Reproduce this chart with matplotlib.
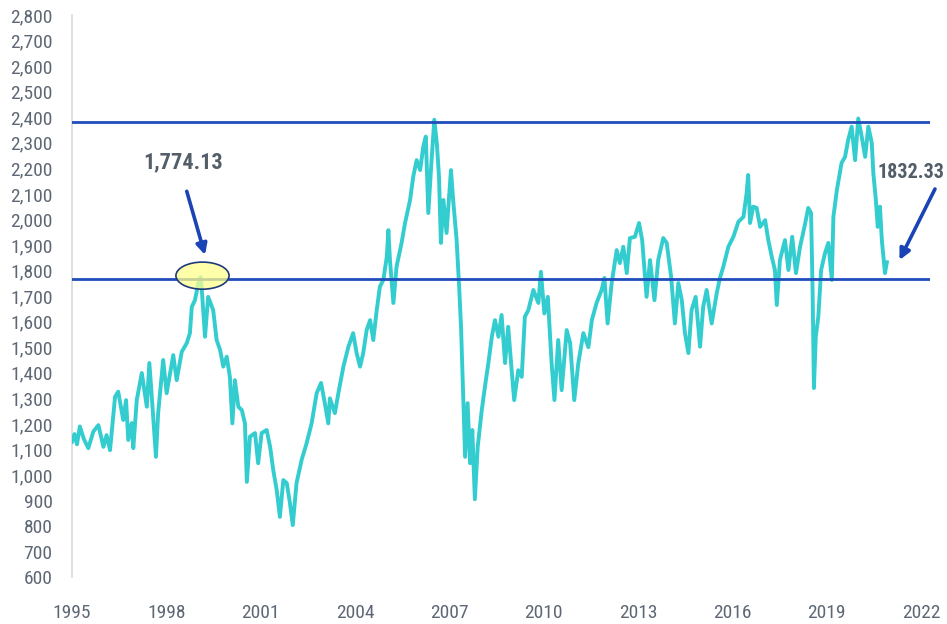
import os
import matplotlib
matplotlib.use("Agg")
import matplotlib.pyplot as plt
import matplotlib.font_manager as fm
from matplotlib.patches import Ellipse
from matplotlib.ticker import FuncFormatter

# ---------------- data ----------------
years = [
    1995.00, 1995.08, 1995.16, 1995.25, 1995.38, 1995.52, 1995.68, 1995.84, 1996.00, 1996.10,
    1996.21, 1996.37, 1996.47, 1996.63, 1996.72, 1996.79, 1996.90, 1996.95, 1997.06, 1997.22,
    1997.38, 1997.46, 1997.53, 1997.67, 1997.74, 1997.90, 1998.01, 1998.22, 1998.33, 1998.49,
    1998.65, 1998.75, 1998.81, 1998.91, 1999.02, 1999.09, 1999.12, 1999.23, 1999.33, 1999.49,
    1999.60, 1999.71, 1999.81, 1999.92, 2000.02, 2000.10, 2000.18, 2000.29, 2000.40, 2000.50,
    2000.56, 2000.66, 2000.82, 2000.92, 2001.03, 2001.19, 2001.30, 2001.40, 2001.51, 2001.61,
    2001.72, 2001.83, 2001.93, 2002.02, 2002.14, 2002.30, 2002.46, 2002.62, 2002.78, 2002.92,
    2003.04, 2003.15, 2003.20, 2003.36, 2003.47, 2003.63, 2003.79, 2003.94, 2004.05, 2004.16,
    2004.26, 2004.37, 2004.48, 2004.58, 2004.69, 2004.79, 2004.90, 2005.01, 2005.06, 2005.11,
    2005.22, 2005.32, 2005.48, 2005.59, 2005.75, 2005.85, 2005.96, 2006.07, 2006.17, 2006.25,
    2006.33, 2006.42, 2006.52, 2006.60, 2006.67, 2006.73, 2006.81, 2006.91, 2007.05, 2007.12,
    2007.23, 2007.31, 2007.37, 2007.44, 2007.50, 2007.58, 2007.66, 2007.73, 2007.81, 2007.90,
    2008.03, 2008.13, 2008.24, 2008.35, 2008.45, 2008.56, 2008.66, 2008.77, 2008.87, 2008.98,
    2009.06, 2009.19, 2009.30, 2009.40, 2009.51, 2009.67, 2009.83, 2009.91, 2010.02, 2010.13,
    2010.25, 2010.34, 2010.46, 2010.57, 2010.73, 2010.84, 2010.97, 2011.10, 2011.26, 2011.42,
    2011.53, 2011.68, 2011.84, 2011.93, 2012.03, 2012.16, 2012.32, 2012.42, 2012.53, 2012.64,
    2012.74, 2012.90, 2013.03, 2013.13, 2013.27, 2013.38, 2013.52, 2013.64, 2013.80, 2013.91,
    2014.05, 2014.17, 2014.28, 2014.39, 2014.49, 2014.60, 2014.70, 2014.83, 2014.97, 2015.07,
    2015.18, 2015.34, 2015.50, 2015.60, 2015.71, 2015.87, 2016.03, 2016.19, 2016.35, 2016.45,
    2016.50, 2016.56, 2016.66, 2016.77, 2016.88, 2017.04, 2017.14, 2017.25, 2017.35, 2017.41,
    2017.51, 2017.67, 2017.78, 2017.90, 2018.02, 2018.15, 2018.29, 2018.41, 2018.50, 2018.55,
    2018.59, 2018.65, 2018.73, 2018.82, 2018.94, 2019.05, 2019.16, 2019.21, 2019.32, 2019.47,
    2019.58, 2019.68, 2019.79, 2019.90, 2020.00, 2020.11, 2020.22, 2020.32, 2020.43, 2020.48,
    2020.56, 2020.62, 2020.69, 2020.75, 2020.80, 2020.85, 2020.91,
]
values = [
    1130, 1160, 1120, 1190, 1140, 1105, 1170, 1195, 1110, 1156,
    1097, 1306, 1326, 1215, 1293, 1137, 1203, 1105, 1293, 1399,
    1267, 1438, 1320, 1071, 1242, 1450, 1320, 1469, 1371, 1482,
    1516, 1555, 1658, 1684, 1751, 1774, 1740, 1541, 1697, 1645,
    1528, 1489, 1424, 1463, 1384, 1202, 1371, 1267, 1254, 1202,
    973, 1150, 1164, 1046, 1164, 1176, 1110, 1019, 941, 836,
    980, 968, 890, 804, 968, 1058, 1124, 1202, 1320, 1360,
    1281, 1202, 1300, 1242, 1320, 1424, 1502, 1555, 1477, 1424,
    1477, 1567, 1606, 1528, 1645, 1737, 1763, 1854, 1958, 1841,
    1673, 1815, 1908, 1986, 2076, 2167, 2232, 2193, 2285, 2324,
    2025, 2206, 2390, 2299, 2167, 1908, 2076, 1947, 2193, 2076,
    1919, 1737, 1580, 1306, 1071, 1281, 1046, 1176, 905, 1110,
    1254, 1345, 1438, 1541, 1606, 1541, 1626, 1438, 1580, 1410,
    1293, 1410, 1384, 1619, 1645, 1724, 1673, 1795, 1632, 1697,
    1438, 1293, 1528, 1332, 1567, 1516, 1293, 1438, 1555, 1500,
    1606, 1673, 1724, 1771, 1593, 1751, 1880, 1829, 1893, 1790,
    1927, 1932, 1986, 1919, 1697, 1841, 1684, 1841, 1927, 1908,
    1776, 1593, 1751, 1684, 1555, 1477, 1645, 1697, 1502, 1658,
    1724, 1593, 1711, 1770, 1815, 1893, 1932, 1991, 2010, 2102,
    2174, 1986, 2050, 2045, 1971, 1997, 1919, 1854, 1802, 1665,
    1841, 1919, 1802, 1932, 1790, 1893, 1971, 2045, 2025, 1711,
    1340, 1541, 1619, 1802, 1867, 1908, 1763, 2010, 2115, 2221,
    2245, 2311, 2363, 2232, 2395, 2324, 2245, 2363, 2299, 2181,
    2076, 1971, 2050, 1919, 1854, 1790, 1832.33,
]

upper_level = 2380
lower_level = 1766
label_low = "1,774.13"
label_last = "1832.33"
x_ticks = [1995, 1998, 2001, 2004, 2007, 2010, 2013, 2016, 2019, 2022]
y_ticks = list(range(600, 2801, 100))


# ---------------- fonts: look for a condensed sans ----------------
def find_condensed(bold):
    prefs = ["Liberation Sans Narrow", "Roboto Condensed", "Open Sans Condensed",
             "Noto Sans", "DejaVu Sans", "Open Sans", "Roboto", "Lato", "Inter"]
    best = None
    for f in fm.fontManager.ttflist:
        base = os.path.basename(f.fname)
        low = base.lower()
        if "italic" in low or "oblique" in low:
            continue
        if not ("condensed" in low or "narrow" in low or "cond" in low):
            continue
        if "semicondensed" in low or "extracondensed" in low or "extra" in low or "semi" in low:
            continue
        w = f.weight if isinstance(f.weight, int) else {"normal": 400, "regular": 400,
                                                          "bold": 700}.get(str(f.weight), 400)
        if bold and w < 600:
            continue
        if bold and w > 750:
            continue
        if not bold and (w < 350 or w > 450):
            continue
        rank = 99
        for i, p in enumerate(prefs):
            if f.name.startswith(p):
                rank = i
                break
        if best is None or rank < best[0]:
            best = (rank, f.fname)
    return best[1] if best else None


reg_path = find_condensed(False)
bold_path = find_condensed(True)
FP_REG = fm.FontProperties(fname=reg_path) if reg_path else fm.FontProperties(family="DejaVu Sans")
FP_BOLD = (fm.FontProperties(fname=bold_path) if bold_path
           else fm.FontProperties(family="DejaVu Sans", weight="bold"))

LINE_C = "#33CCCF"
BLUE = "#1F4DBA"
TICK_C = "#5E6875"

fig = plt.figure(figsize=(9.47, 6.24), dpi=100)
ax = fig.add_axes([0.076, 0.075, 0.906, 0.901])

ax.plot(years, values, color=LINE_C, lw=2.8, solid_joinstyle="round", zorder=3)

ax.axhline(upper_level, color=BLUE, lw=2.0, zorder=4)
ax.axhline(lower_level, color=BLUE, lw=2.0, zorder=4)

ell = Ellipse((1999.15, 1780), width=1.69, height=106, facecolor="#FFFF8C",
              alpha=0.75, edgecolor="none", zorder=5)
ax.add_patch(ell)
ell2 = Ellipse((1999.15, 1780), width=1.69, height=106, facecolor="none",
               edgecolor="#1F3A7A", lw=1.2, zorder=6)
ax.add_patch(ell2)

ax.annotate("", xy=(1999.23, 1861), xytext=(1998.65, 2110),
            arrowprops=dict(arrowstyle="-|>", color="#1A44B5", lw=2.6,
                            mutation_scale=16, shrinkA=0, shrinkB=0), zorder=7)
t1 = ax.text(1998.53, 2225, label_low, ha="center", va="center",
             color="#545E69", zorder=7)
t1.set_fontproperties(FP_BOLD)
t1.set_fontsize(16)

ax.annotate("", xy=(2021.31, 1841), xytext=(2022.44, 2119),
            arrowprops=dict(arrowstyle="-|>", color="#1A44B5", lw=2.6,
                            mutation_scale=16, shrinkA=0, shrinkB=0),
            annotation_clip=False, zorder=7)
t2 = ax.text(2020.60, 2182, label_last, ha="left", va="center",
             color="#545E69", clip_on=False, zorder=7)
t2.set_fontproperties(FP_BOLD)
t2.set_fontsize(14.5)

ax.set_xlim(1995, 2022.28)
ax.set_ylim(600, 2800)
ax.set_xticks(x_ticks)
ax.set_yticks(y_ticks)
ax.yaxis.set_major_formatter(FuncFormatter(lambda v, p: f"{v:,.0f}"))
ax.tick_params(axis="both", length=0, labelcolor=TICK_C)
ax.tick_params(axis="x", pad=19)
ax.tick_params(axis="y", pad=14)
for lab in ax.get_xticklabels() + ax.get_yticklabels():
    lab.set_fontproperties(FP_REG)
    lab.set_fontsize(14)

for s in ["top", "right", "bottom"]:
    ax.spines[s].set_visible(False)
ax.spines["left"].set_color("#D9D9D9")
ax.spines["left"].set_linewidth(1.2)

fig.savefig("out.png", dpi=100)
